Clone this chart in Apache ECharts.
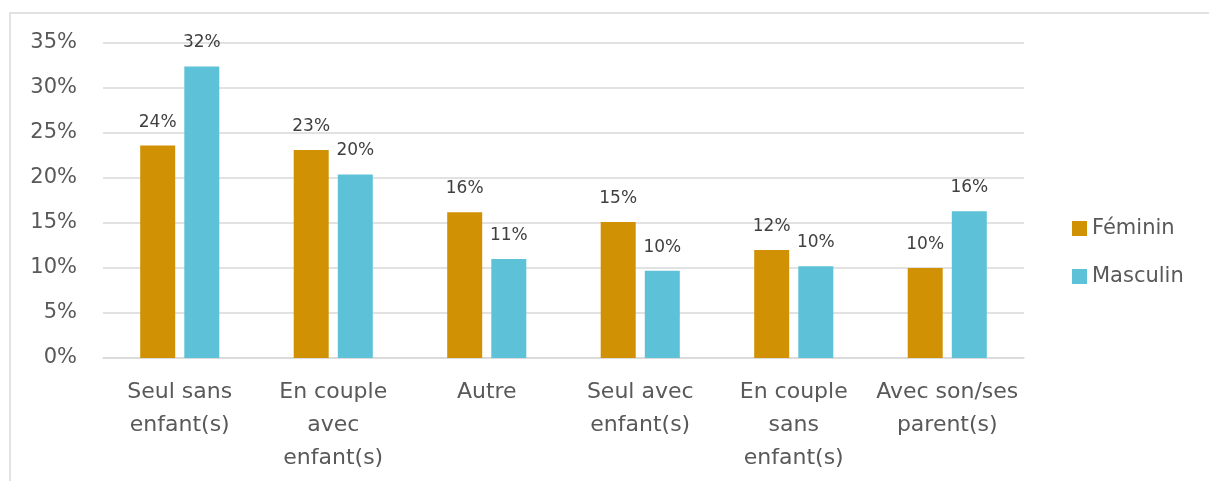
<!DOCTYPE html>
<html>
<head>
<meta charset="utf-8">
<script src="https://cdn.jsdelivr.net/npm/echarts@6/dist/echarts.min.js"></script>
<style>
  html, body { margin: 0; padding: 0; background: #fff; }
  #chart { width: 1209px; height: 481px; }
</style>
</head>
<body>
<div id="chart"></div>
<script>
const categories = ['Seul sans\nenfant(s)', 'En couple\navec\nenfant(s)', 'Autre', 'Seul avec\nenfant(s)', 'En couple\nsans\nenfant(s)', 'Avec son/ses\nparent(s)']
const feminin = [23.6, 23.1, 16.2, 15.1, 12.0, 10.0]
const masculin = [32.4, 20.4, 11.0, 9.7, 10.2, 16.3]
const yTicks = [0, 5, 10, 15, 20, 25, 30, 35]

const font = 'DejaVu Sans'
const textColor = '#595959'

var myChart = echarts.init(document.getElementById('chart'))
const option = {
  animation: false,
  textStyle: { fontFamily: font },
  graphic: [
    {
      type: 'rect',
      shape: { x: 10, y: 13, width: 1300, height: 600 },
      style: { fill: 'none', stroke: '#d9d9d9', lineWidth: 1.5 }
    }
  ],
  legend: {
    orient: 'vertical',
    left: 1067,
    top: 213,
    itemWidth: 15,
    itemHeight: 15,
    itemGap: 27,
    icon: 'rect',
    textStyle: { fontSize: 21, color: textColor, fontFamily: font },
    data: ['Féminin', 'Masculin']
  },
  grid: { left: 103, right: 185, top: 43, bottom: 123 },
  xAxis: {
    type: 'category',
    data: categories,
    axisTick: { show: false },
    axisLine: { lineStyle: { color: '#d9d9d9', width: 1.5 } },
    axisLabel: {
      interval: 0,
      fontSize: 22,
      color: textColor,
      lineHeight: 33,
      margin: 18,
      verticalAlign: 'top',
      fontFamily: font
    }
  },
  yAxis: {
    type: 'value',
    min: yTicks[0],
    max: yTicks[yTicks.length - 1],
    interval: 5,
    axisLine: { show: false },
    axisTick: { show: false },
    splitLine: { lineStyle: { color: '#d9d9d9', width: 1.5 } },
    axisLabel: {
      fontSize: 21,
      color: textColor,
      margin: 26,
      fontFamily: font,
      formatter: v => v + '%'
    }
  },
  series: [
    {
      name: 'Féminin',
      type: 'bar',
      data: feminin,
      barWidth: 35,
      barGap: '26%',
      itemStyle: { color: '#d09204' },
      label: {
        show: true,
        position: 'top',
        distance: 15,
        fontSize: 17,
        color: '#404040',
        fontFamily: font,
        formatter: p => Math.round(p.value) + '%'
      }
    },
    {
      name: 'Masculin',
      type: 'bar',
      data: masculin,
      barWidth: 35,
      itemStyle: { color: '#5dc2d7' },
      label: {
        show: true,
        position: 'top',
        distance: 15,
        fontSize: 17,
        color: '#404040',
        fontFamily: font,
        formatter: p => Math.round(p.value) + '%'
      }
    }
  ]
}
myChart.setOption(option)
</script>
</body>
</html>
